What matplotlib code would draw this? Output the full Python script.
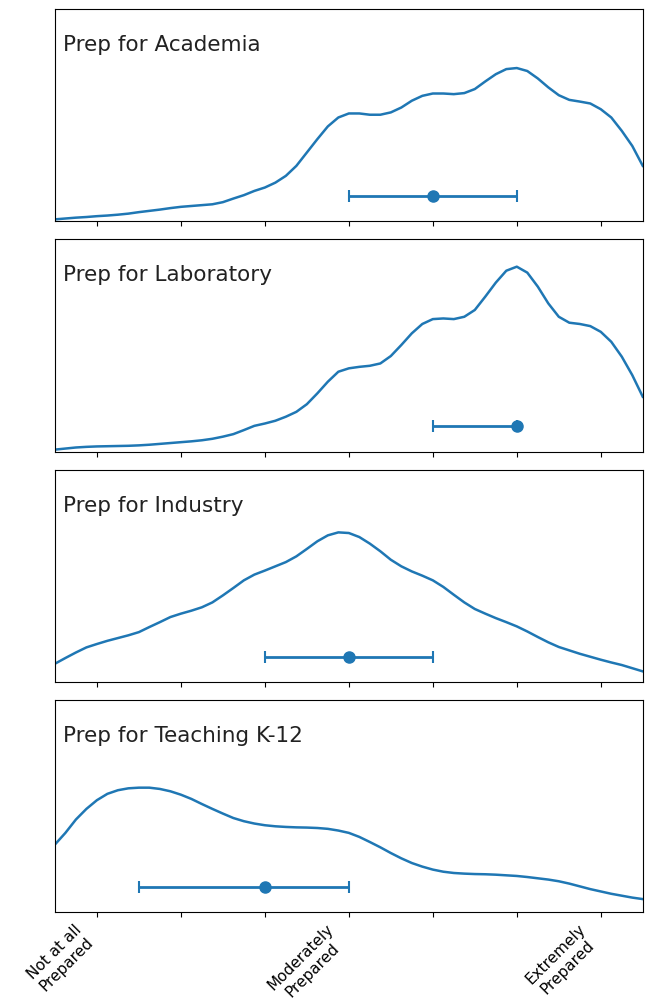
import numpy as np
import matplotlib.pyplot as plt

# response scale 1..7, curves every 0.125
x_grid = np.linspace(0.5, 7.5, 57)

academia = [0.009, 0.013, 0.017, 0.020, 0.024, 0.027, 0.031, 0.036, 0.043, 0.049,
            0.055, 0.062, 0.068, 0.072, 0.076, 0.080, 0.090,
            0.107, 0.123, 0.143, 0.159, 0.182, 0.214, 0.261, 0.324, 0.387, 0.447,
            0.489, 0.508, 0.508, 0.502, 0.502, 0.513, 0.536, 0.568, 0.591, 0.602,
            0.602, 0.599, 0.604, 0.623, 0.659, 0.693, 0.717, 0.722, 0.708, 0.673,
            0.631, 0.594, 0.572, 0.564, 0.555, 0.528, 0.489, 0.426, 0.355, 0.261]
laboratory = [0.009, 0.014, 0.019, 0.022, 0.024, 0.025, 0.026, 0.027, 0.029, 0.032,
              0.036, 0.040, 0.044, 0.048, 0.053, 0.060, 0.070,
              0.082, 0.101, 0.121, 0.132, 0.145, 0.164, 0.187, 0.223, 0.274, 0.329,
              0.376, 0.392, 0.399, 0.404, 0.415, 0.450, 0.502, 0.557, 0.601, 0.624,
              0.627, 0.624, 0.635, 0.667, 0.730, 0.796, 0.852, 0.871, 0.843, 0.777,
              0.698, 0.635, 0.607, 0.601, 0.591, 0.564, 0.517, 0.447, 0.360, 0.258]
industry = [0.085, 0.112, 0.138, 0.162, 0.178, 0.193, 0.206, 0.219, 0.234, 0.258,
            0.281, 0.305, 0.321, 0.335, 0.351, 0.374, 0.407, 0.442, 0.478, 0.505,
            0.524, 0.544, 0.564, 0.591, 0.626, 0.662, 0.690, 0.704, 0.701, 0.682,
            0.651, 0.615, 0.575, 0.544, 0.520, 0.500, 0.478, 0.447, 0.410, 0.374,
            0.343, 0.321, 0.300, 0.281, 0.261, 0.237, 0.211, 0.186, 0.164, 0.148,
            0.132, 0.118, 0.104, 0.091, 0.079, 0.064, 0.049]
teaching = [0.318, 0.373, 0.436, 0.486, 0.527, 0.557, 0.574, 0.583, 0.586, 0.586,
            0.580, 0.569, 0.553, 0.533, 0.509, 0.486, 0.464, 0.443, 0.428, 0.417,
            0.409, 0.404, 0.401, 0.399, 0.398, 0.396, 0.392, 0.384, 0.373, 0.354,
            0.330, 0.305, 0.278, 0.253, 0.231, 0.214, 0.200, 0.190, 0.184, 0.181,
            0.179, 0.178, 0.176, 0.173, 0.170, 0.165, 0.159, 0.153, 0.145, 0.134,
            0.121, 0.108, 0.097, 0.086, 0.077, 0.068, 0.061]

titles = ['Prep for Academia', 'Prep for Laboratory', 'Prep for Industry',
          'Prep for Teaching K-12']
curves = [academia, laboratory, industry, teaching]
medians = [5, 6, 4, 3]
q1 = [4, 5, 3, 1.5]
q3 = [6, 6, 5, 4]

tick_pos = [1, 2, 3, 4, 5, 6, 7]
tick_labels = ['Not at all\nPrepared', '', '', 'Moderately\nPrepared', '', '',
               'Extremely\nPrepared']

fig, axes = plt.subplots(4, 1, figsize=(6.46, 10.05), dpi=100, sharex=True)
fig.subplots_adjust(left=0.085, right=0.995, top=0.991, bottom=0.0925, hspace=0.085)

for i, ax in enumerate(axes):
    ax.plot(x_grid, curves[i], color='C0', lw=1.8)
    ax.errorbar([medians[i]], [0.118],
                xerr=[[medians[i] - q1[i]], [q3[i] - medians[i]]],
                fmt='o', color='C0', ms=8, capsize=4, lw=2, capthick=1.5)
    ax.text(0.013, 0.83, titles[i], transform=ax.transAxes, fontsize=15.5,
            va='center', ha='left', color='#222222')
    ax.set_xlim(0.5, 7.5)
    ax.set_ylim(0, 1)
    ax.set_yticks([])
    ax.set_xticks(tick_pos)

axes[-1].set_xticklabels(tick_labels, rotation=45, ha='right',
                         multialignment='center', fontsize=11)

fig.savefig('out.png', dpi=100)
